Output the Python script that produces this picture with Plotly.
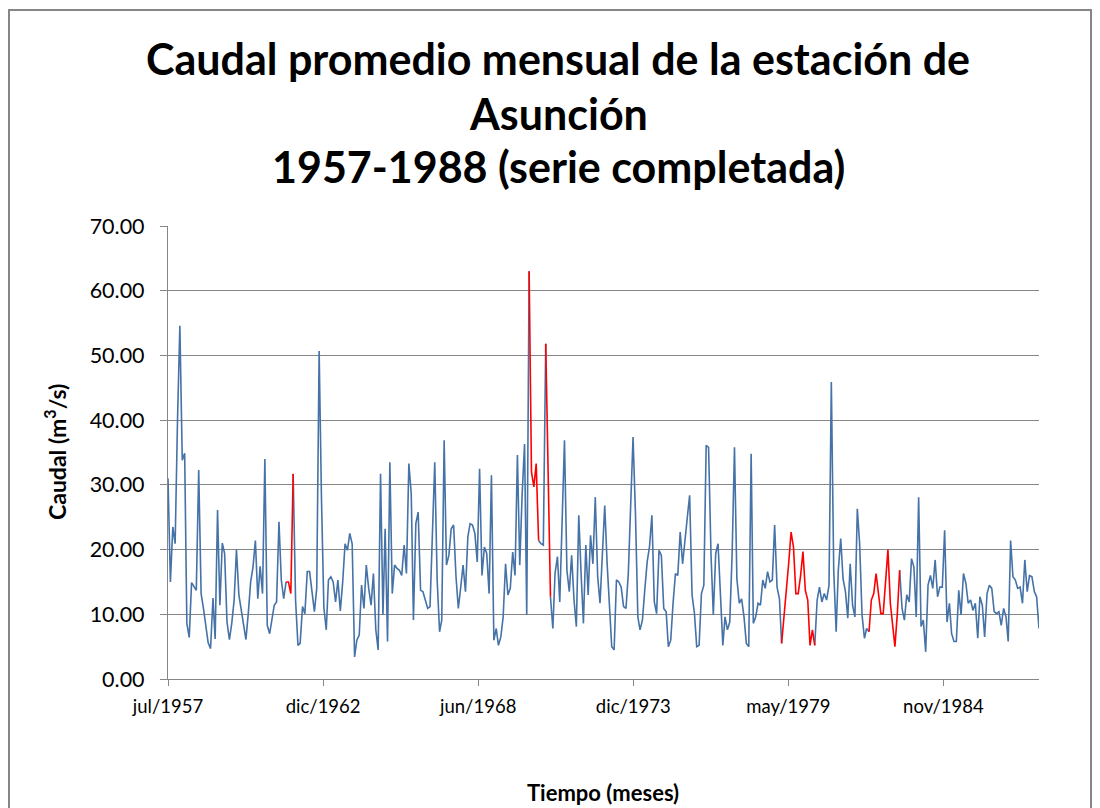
import plotly.graph_objects as go
import pandas as pd

# Caudal promedio mensual (m3/s), jul/1957 - abr/1988, serie completada
inicio = "1957-07-01"
caudal = [
    31.0, 15.0, 23.5, 20.9, 40.2, 54.6, 33.8, 34.9, 8.6, 6.4,
    14.9, 14.2, 13.7, 32.3, 13.2, 10.9, 8.1, 5.6, 4.7, 12.5,
    6.2, 26.1, 11.4, 21.0, 19.4, 8.8, 6.1, 8.6, 12.2, 20.0,
    13.0, 10.4, 8.6, 6.1, 10.1, 15.0, 17.3, 21.4, 12.4, 17.4,
    13.2, 34.0, 8.3, 7.0, 9.1, 11.4, 11.9, 24.3, 15.3, 12.4,
    15.0, 15.0, 13.2, 31.7, 12.2, 5.2, 5.5, 11.2, 10.1, 16.6,
    16.6, 13.5, 10.4, 14.0, 50.7, 28.0, 11.0, 7.6, 15.3, 15.8,
    15.0, 11.9, 15.3, 10.5, 15.0, 20.9, 19.9, 22.5, 20.9, 3.4,
    6.0, 6.8, 14.5, 10.9, 17.6, 14.0, 11.4, 16.3, 7.6, 4.5,
    31.7, 9.9, 23.2, 5.8, 33.5, 13.2, 17.6, 17.1, 16.8, 16.0,
    20.7, 16.3, 33.3, 28.6, 9.1, 24.0, 25.8, 13.7, 13.5, 12.2,
    10.9, 11.2, 23.2, 33.5, 15.3, 7.3, 9.1, 36.9, 17.6, 19.1,
    23.2, 23.8, 15.8, 10.9, 14.2, 17.6, 13.5, 22.0, 24.0, 23.8,
    22.5, 18.1, 32.5, 16.0, 20.4, 19.4, 13.2, 31.5, 6.0, 7.8,
    5.2, 6.5, 9.6, 17.8, 13.0, 14.0, 19.6, 16.0, 34.6, 17.6,
    28.6, 36.3, 9.9, 63.0, 32.0, 29.7, 33.3, 21.4, 20.9, 20.7,
    51.8, 30.0, 12.7, 7.8, 16.3, 18.9, 11.9, 24.0, 36.9, 16.8,
    13.5, 19.1, 12.2, 8.1, 25.3, 16.0, 8.6, 20.7, 13.0, 22.2,
    17.8, 28.1, 15.8, 11.7, 18.9, 26.8, 17.8, 10.1, 5.0, 4.5,
    15.3, 15.0, 14.2, 11.2, 10.9, 16.3, 27.6, 37.4, 25.6, 9.6,
    7.6, 9.1, 13.7, 18.1, 20.4, 25.3, 11.9, 10.1, 19.9, 19.1,
    10.9, 10.4, 5.0, 6.0, 11.7, 16.3, 16.0, 22.7, 17.8, 20.9,
    25.0, 28.4, 13.0, 10.1, 5.0, 5.2, 13.2, 14.5, 36.1, 35.8,
    19.4, 9.9, 19.4, 20.9, 12.2, 5.2, 9.6, 7.6, 8.8, 19.4,
    35.8, 15.5, 11.7, 12.4, 9.6, 5.5, 5.0, 34.8, 8.6, 9.6,
    11.7, 11.4, 15.3, 14.0, 16.6, 15.0, 15.3, 23.8, 14.2, 12.4,
    5.5, 9.5, 13.5, 18.0, 22.7, 20.4, 13.2, 13.2, 16.0, 19.7,
    13.7, 12.2, 5.2, 7.6, 5.2, 12.2, 14.2, 11.9, 13.2, 12.2,
    14.5, 45.9, 16.8, 7.3, 16.8, 21.7, 15.5, 13.5, 9.4, 17.8,
    11.4, 9.6, 26.3, 20.9, 9.9, 6.3, 7.8, 7.3, 12.2, 13.2,
    16.3, 13.2, 10.1, 10.1, 15.0, 20.0, 11.7, 8.1, 5.0, 10.1,
    16.8, 10.9, 9.1, 13.0, 11.9, 18.6, 17.3, 9.6, 28.1, 8.1,
    9.1, 4.2, 14.5, 16.0, 14.0, 18.4, 12.7, 14.2, 14.2, 23.0,
    8.8, 11.7, 7.0, 5.8, 5.8, 13.7, 9.9, 16.3, 14.8, 11.7,
    12.2, 10.6, 11.7, 6.3, 12.7, 11.4, 6.5, 13.2, 14.5, 14.0,
    10.4, 10.1, 10.4, 8.3, 10.9, 9.6, 5.8, 21.4, 15.8, 15.3,
    14.0, 14.2, 11.7, 18.4, 13.5, 16.0, 15.8, 13.5, 12.7, 7.8,
]
# meses completados (indices dentro de la serie)
relleno = [51, 52, 154, 155, 156, 161] + list(range(261, 274)) + list(range(298, 310))

etiquetas_x = ["jul/1957", "dic/1962", "jun/1968", "dic/1973", "may/1979", "nov/1984"]
valores_y = [0, 10, 20, 30, 40, 50, 60, 70]

fechas = pd.date_range(inicio, periods=len(caudal), freq="MS")
original = [None if i in relleno else v for i, v in enumerate(caudal)]
# tramos completados: valores rellenados y sus vecinos para unir la línea
completada = [v if (i in relleno or i - 1 in relleno or i + 1 in relleno) else None
              for i, v in enumerate(caudal)]
ticks_x = [pd.Timestamp(inicio) + pd.Timedelta(days=2000 * k) for k in range(len(etiquetas_x))]

gris = "#868686"
fuente = "Lato, Carlito, Calibri, sans-serif"

fig = go.Figure()

fig.add_trace(go.Scatter(
    x=fechas, y=original, mode="lines", name="original",
    line=dict(color="#4572A7", width=1.6), connectgaps=False,
))
fig.add_trace(go.Scatter(
    x=fechas, y=completada, mode="lines", name="completada",
    line=dict(color="#FF0000", width=1.6), connectgaps=False,
))

# la página añade 8 px de margen: coordenadas de pantalla -> figura
OFF = 8
W, H = 1084, 800
L, T = 168 - OFF, 226 - OFF
R = W - (1039 - OFF)
B = H - (679 - OFF)
pw, ph = W - L - R, H - T - B

def px(x):
    return (x - OFF - L) / pw

def py(y):
    return (H - B - (y - OFF)) / ph

titulo = ["Caudal promedio mensual de la estación de", "Asunción", "1957-1988 (serie completada)"]
for txt, yy in zip(titulo, [58, 113, 166]):
    fig.add_annotation(
        text="<b>" + txt + "</b>", x=px(558), y=py(yy), xref="paper", yref="paper",
        showarrow=False, xanchor="center", yanchor="middle",
        font=dict(size=43, color="black", family=fuente),
    )

fig.add_annotation(
    text="<b>Caudal (m<sup>3</sup>/s)</b>", x=px(55), y=py(452), xref="paper", yref="paper",
    showarrow=False, textangle=-90, xanchor="center", yanchor="middle",
    font=dict(size=23, color="black", family=fuente),
)
fig.add_annotation(
    text="<b>Tiempo (meses)</b>", x=px(603), y=py(792), xref="paper", yref="paper",
    showarrow=False, xanchor="center", yanchor="middle",
    font=dict(size=22, color="black", family=fuente),
)

# marco del área del gráfico
fig.add_shape(
    type="rect", xref="paper", yref="paper",
    x0=px(9), x1=px(1091), y0=py(815), y1=py(10),
    line=dict(color=gris, width=2), layer="below",
)

fig.update_layout(
    width=W, height=H,
    margin=dict(l=L, r=R, t=T, b=B),
    paper_bgcolor="white", plot_bgcolor="white",
    showlegend=False,
    font=dict(family=fuente, size=20, color="black"),
)
fig.update_xaxes(
    range=[fechas[0], fechas[-1]],
    tickvals=ticks_x, ticktext=etiquetas_x,
    showgrid=False, showline=True, linecolor=gris, linewidth=1.2,
    ticks="outside", ticklen=6, tickcolor=gris, tickwidth=1.2,
    ticklabelstandoff=5,
    tickfont=dict(size=18.5, family=fuente),
)
fig.update_yaxes(
    range=[0, 70], tickvals=valores_y, tickformat=".2f",
    showgrid=True, gridcolor=gris, gridwidth=1.2,
    showline=True, linecolor=gris, linewidth=1.2,
    ticks="outside", ticklen=7, tickcolor=gris, tickwidth=1.2,
    ticklabelstandoff=11,
    zeroline=False, tickfont=dict(size=21.5, family=fuente),
)

fig.write_html("out.html")
